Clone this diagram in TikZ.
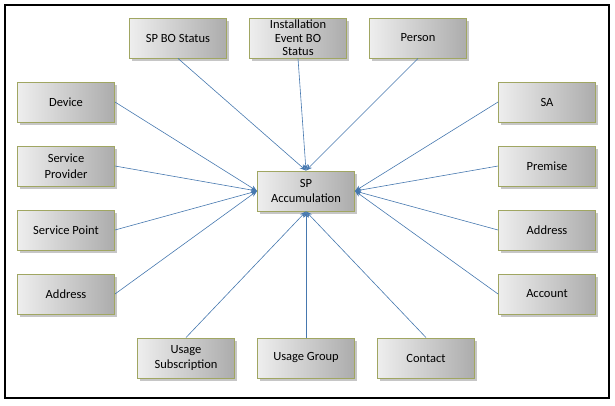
\documentclass[tikz,border=0pt]{standalone}
\usepackage{fontspec}
\setmainfont{Carlito}
\usetikzlibrary{arrows.meta,shadows}
\definecolor{splink}{RGB}{70,120,175}
\definecolor{spedge}{RGB}{160,166,98}
\definecolor{spfillL}{RGB}{238,238,238}
\definecolor{spfillR}{RGB}{172,172,172}

\begin{document}
\begin{tikzpicture}[
    x=1pt, y=-1pt,
    >={Stealth[length=2.2mm,width=1.7mm]},
    link/.style={->, draw=splink, line width=0.6pt},
    ent/.style={rectangle, draw=spedge, line width=0.9pt,
      left color=spfillL, right color=spfillR,
      minimum width=97pt, minimum height=40pt, inner sep=0pt,
      align=center, font=\fontsize{12.5}{15.5}\selectfont,
      drop shadow={shadow xshift=2pt, shadow yshift=-2.5pt, opacity=0.45}},
  ]
  \useasboundingbox (0,0) rectangle (615,405);
  \draw[black, line width=1.2pt] (5,5) rectangle (609,398);

  %% ---------------- centre ----------------
  \node[ent] (acc) at (306,191) {SP\\Accumulation};

  %% ---------------- top row ----------------
  \node[ent] (bost) at (178,38) {SP BO Status};
  \node[ent, font=\fontsize{12.5}{13.5}\selectfont] (inst) at (298,38) {Installation\\Event BO\\Status};
  \node[ent] (pers) at (418,38) {Person};

  %% ---------------- left column ----------------
  \node[ent] (dev)   at (66,102) {Device};
  \node[ent] (prov)  at (66,166) {Service\\Provider};
  \node[ent] (spt)   at (66,230) {Service Point};
  \node[ent] (addrl) at (66,294) {Address};

  %% ---------------- right column ----------------
  \node[ent] (sa)    at (547,102) {SA};
  \node[ent] (prem)  at (547,166) {Premise};
  \node[ent] (addrr) at (547,230) {Address};
  \node[ent] (acct)  at (547,294) {Account};

  %% ---------------- bottom row ----------------
  \node[ent] (usub) at (186,358) {Usage\\Subscription};
  \node[ent] (ugrp) at (306,358) {Usage Group};
  \node[ent] (cont) at (426,358) {Contact};

  %% ---------------- links ----------------
  \foreach \n in {bost,inst,pers} \draw[link] (\n.south) -- (acc.north);
  \foreach \n in {dev,prov,spt,addrl} \draw[link] (\n.east) -- (acc.west);
  \foreach \n in {sa,prem,addrr,acct} \draw[link] (\n.west) -- (acc.east);
  \foreach \n in {usub,ugrp,cont} \draw[link] (\n.north) -- (acc.south);

\end{tikzpicture}
\end{document}
